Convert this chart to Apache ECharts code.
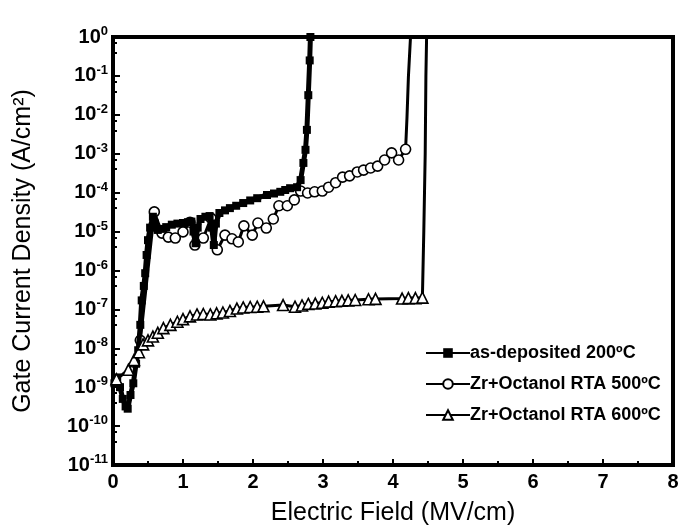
<!DOCTYPE html>
<html>
<head>
<meta charset="utf-8">
<script src="https://cdn.jsdelivr.net/npm/echarts@6/dist/echarts.min.js"></script>
<style>
  html, body { margin: 0; padding: 0; background: #fff; }
  #chart { width: 682px; height: 525px; }
</style>
</head>
<body>
<div id="chart"></div>
<script>
// as-deposited 200°C (filled squares)
const asDepE = [0.02, 0.06, 0.10, 0.14, 0.18, 0.21, 0.25, 0.29, 0.33, 0.36, 0.39, 0.41, 0.44, 0.46, 0.48, 0.50, 0.53, 0.57, 0.60, 0.64, 0.70, 0.76, 0.84, 0.92, 1.00, 1.07, 1.12, 1.15, 1.18, 1.21, 1.25, 1.32, 1.38, 1.41, 1.44, 1.47, 1.52, 1.60, 1.67, 1.76, 1.86, 1.96, 2.06, 2.20, 2.30, 2.39, 2.46, 2.53, 2.63, 2.68, 2.72, 2.75, 2.77, 2.79, 2.81, 2.82];
const asDepJ = [1.26e-9, 1.78e-9, 1e-9, 5e-10, 3.2e-10, 2.8e-10, 6.3e-10, 1.26e-9, 4e-9, 8.9e-9, 4e-8, 1.7e-7, 4e-7, 8.5e-7, 2.5e-6, 6e-6, 1.26e-5, 2.4e-5, 1.6e-5, 1.1e-5, 1.17e-5, 1.3e-5, 1.5e-5, 1.6e-5, 1.66e-5, 1.74e-5, 1.8e-5, 1e-5, 5e-6, 1.26e-5, 2.1e-5, 2.4e-5, 2.5e-5, 1.26e-5, 4.5e-6, 1.6e-5, 3e-5, 3.5e-5, 4e-5, 4.6e-5, 5.4e-5, 6.3e-5, 7.2e-5, 8.7e-5, 9.5e-5, 1.05e-4, 1.17e-4, 1.3e-4, 1.38e-4, 2.1e-4, 5.8e-4, 1.26e-3, 4.1e-3, 3.2e-2, 0.25, 1];

// Zr+Octanol RTA 500°C (open circles)
const rta500E = [0.39, 0.59, 0.70, 0.79, 0.89, 1.00, 1.10, 1.17, 1.29, 1.40, 1.49, 1.60, 1.70, 1.79, 1.87, 1.99, 2.07, 2.19, 2.29, 2.37, 2.49, 2.59, 2.68, 2.78, 2.88, 2.99, 3.08, 3.18, 3.28, 3.38, 3.49, 3.58, 3.68, 3.78, 3.88, 3.98, 4.08, 4.18, 4.20, 4.22, 4.25];
const rta500J = [1.6e-8, 3.2e-5, 9.1e-6, 7.2e-6, 6.8e-6, 9.8e-6, 1.74e-5, 4.5e-6, 6.8e-6, 2.2e-5, 3.4e-6, 8.1e-6, 6.5e-6, 5.4e-6, 1.4e-5, 8.1e-6, 1.66e-5, 1.23e-5, 2.1e-5, 4.6e-5, 4.6e-5, 6.5e-5, 1.1e-4, 9.8e-5, 1.05e-4, 1.1e-4, 1.38e-4, 1.8e-4, 2.5e-4, 2.7e-4, 3.4e-4, 3.8e-4, 4.3e-4, 4.8e-4, 6.9e-4, 1.05e-3, 6.9e-4, 1.3e-3, 8.7e-3, 9.3e-2, 1];

// Zr+Octanol RTA 600°C (open triangles)
const rta600E = [0.05, 0.22, 0.30, 0.37, 0.43, 0.50, 0.57, 0.64, 0.72, 0.82, 0.92, 1.00, 1.10, 1.20, 1.29, 1.39, 1.48, 1.57, 1.67, 1.77, 1.86, 1.96, 2.06, 2.15, 2.43, 2.60, 2.70, 2.79, 2.89, 2.99, 3.08, 3.18, 3.27, 3.36, 3.46, 3.65, 3.75, 4.13, 4.22, 4.32, 4.42, 4.43, 4.44, 4.46, 4.47, 4.48];
const rta600J = [1.6e-9, 2.8e-9, 5e-9, 7.9e-9, 1.26e-8, 1.6e-8, 2e-8, 2.5e-8, 3.3e-8, 4e-8, 4.8e-8, 5.6e-8, 6.6e-8, 7.4e-8, 7.6e-8, 7.4e-8, 7.9e-8, 8.3e-8, 9.1e-8, 1.05e-7, 1.12e-7, 1.15e-7, 1.17e-7, 1.2e-7, 1.29e-7, 1.17e-7, 1.26e-7, 1.38e-7, 1.41e-7, 1.48e-7, 1.58e-7, 1.62e-7, 1.66e-7, 1.7e-7, 1.74e-7, 1.82e-7, 1.86e-7, 1.9e-7, 1.95e-7, 1.95e-7, 2e-7, 2e-7, 1e-5, 1e-3, 1e-1, 1];

const seriesNames = ['as-deposited 200\u00baC', 'Zr+Octanol RTA 500\u00baC', 'Zr+Octanol RTA 600\u00baC'];
const xTicks = [0, 1, 2, 3, 4, 5, 6, 7, 8];

const FONT = '"Liberation Sans", Arial, sans-serif';

// pairs up x/y; markers are dropped on the breakdown part (x beyond lastMark)
function pairs(xs, ys, lastMark) {
  return xs.map((x, i) => {
    const item = { value: [x, ys[i]] };
    if (lastMark != null && x > lastMark) item.symbol = 'none';
    return item;
  });
}

const chart = echarts.init(document.getElementById('chart'));

const option = {
  backgroundColor: '#fff',
  animation: false,
  grid: {
    left: 113, right: 9, top: 37, bottom: 60,
    outerBoundsMode: 'none',
    show: true, borderColor: '#000', borderWidth: 4
  },
  legend: {
    orient: 'vertical',
    left: 420, top: 339,
    itemGap: 13,
    itemWidth: 44, itemHeight: 12,
    textStyle: { fontFamily: FONT, fontSize: 18, fontWeight: 'bold', color: '#000', padding: [0, 0, 0, -5] },
    data: seriesNames
  },
  xAxis: {
    type: 'value',
    min: 0, max: 8, interval: 1,
    name: 'Electric Field (MV/cm)',
    nameLocation: 'middle',
    nameGap: 36,
    nameTextStyle: { fontFamily: FONT, fontSize: 25, color: '#000' },
    axisLine: { lineStyle: { color: '#000', width: 4 } },
    axisTick: { inside: true, length: 6, lineStyle: { color: '#000', width: 2 } },
    minorTick: { show: true, splitNumber: 2, length: 4, lineStyle: { color: '#000', width: 2 } },
    splitLine: { show: false },
    axisLabel: {
      fontFamily: FONT, fontSize: 20, fontWeight: 'bold', color: '#000', margin: 7,
      formatter: v => xTicks.includes(v) ? String(v) : ''
    }
  },
  yAxis: {
    type: 'log',
    logBase: 10,
    min: 1e-11, max: 1,
    interval: 1,
    name: 'Gate Current Density (A/cm\u00b2)',
    nameLocation: 'middle',
    nameGap: 77,
    nameTextStyle: { fontFamily: FONT, fontSize: 25, color: '#000' },
    axisLine: { lineStyle: { color: '#000', width: 4 } },
    axisTick: { inside: true, length: 7, lineStyle: { color: '#000', width: 2 } },
    minorTick: { show: true, splitNumber: 3, length: 4, lineStyle: { color: '#000', width: 2 } },
    splitLine: { show: false },
    axisLabel: {
      margin: 5,
      formatter: v => '{b|10}{s|' + Math.round(Math.log10(v)) + '}',
      rich: {
        b: { fontFamily: FONT, fontSize: 20, fontWeight: 'bold', color: '#000', lineHeight: 24 },
        s: { fontFamily: FONT, fontSize: 13, fontWeight: 'bold', color: '#000', verticalAlign: 'top', lineHeight: 24, padding: [0, 0, 11, 0] }
      }
    }
  },
  series: [
    {
      name: seriesNames[1],
      type: 'line',
      z: 3,
      data: pairs(rta500E, rta500J, 4.18),
      symbol: 'circle', symbolSize: 10,
      itemStyle: { color: '#fff', borderColor: '#000', borderWidth: 1.6 },
      lineStyle: { color: '#000', width: 3 }
    },
    {
      name: seriesNames[0],
      type: 'line',
      z: 4,
      data: pairs(asDepE, asDepJ),
      symbol: 'rect', symbolSize: 8,
      itemStyle: { color: '#000', borderColor: '#000', borderWidth: 0 },
      lineStyle: { color: '#000', width: 5 }
    },
    {
      name: seriesNames[2],
      type: 'line',
      z: 5,
      data: pairs(rta600E, rta600J, 4.42),
      symbol: 'triangle', symbolSize: 11,
      itemStyle: { color: '#fff', borderColor: '#000', borderWidth: 1.6 },
      lineStyle: { color: '#000', width: 3 }
    }
  ]
};

chart.setOption(option);
</script>
</body>
</html>
